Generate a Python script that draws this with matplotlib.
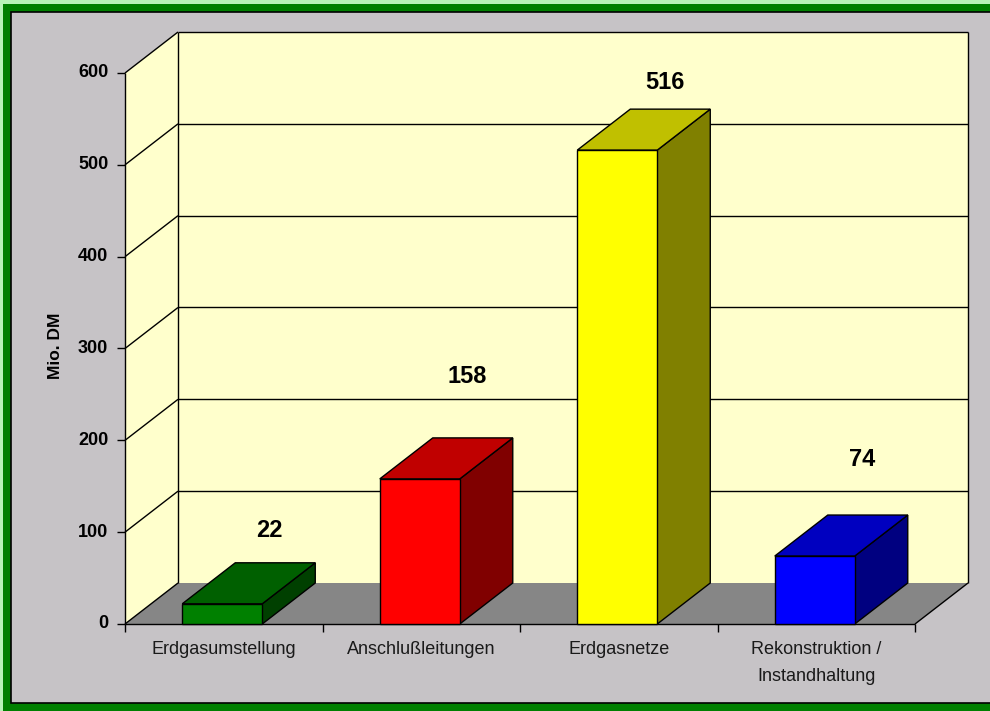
import numpy as np
import matplotlib
matplotlib.use("Agg")
import matplotlib.pyplot as plt
from matplotlib.patches import Polygon, Rectangle

plt.rcParams['font.family'] = ['Liberation Sans', 'DejaVu Sans']

categories = ['Erdgasumstellung', 'Anschlußleitungen', 'Erdgasnetze', 'Rekonstruktion /\nInstandhaltung']
values = [22, 158, 516, 74]
yticks = [0, 100, 200, 300, 400, 500, 600]

front_colors = ['#008000', '#ff0000', '#ffff00', '#0000ff']
top_colors = ['#006000', '#c00000', '#c0c000', '#0000c0']
side_colors = ['#004000', '#800000', '#808000', '#000080']
# how far above the bar each number sits (value units)
label_lift = [80, 112, 74, 105]

W, H = 990, 711
fig = plt.figure(figsize=(W / 100, H / 100), dpi=100)
fig.patch.set_facecolor('#b8f4b8')

# window frame (behind the axes)
fig.add_artist(Rectangle((3 / W, 0), 1, 1 - 4 / H, transform=fig.transFigure,
                         facecolor='#008000', edgecolor='none', zorder=-10))
fig.add_artist(Rectangle((11 / W, 8 / H), 1, (703 - 12) / H, transform=fig.transFigure,
                         facecolor='#c6c3c6', edgecolor='black', lw=1.2, zorder=-9))

ax = fig.add_axes([125 / W, (H - 624) / H, 790 / W, 551 / H])
ax.set_xlim(0, 4)
ax.set_ylim(0, 600)
ax.axis('off')

n = len(categories)
DX = 53 / 790 * n
DY = 41 / 551 * 600
top = yticks[-1]

# walls and floor
ax.add_patch(Polygon([(DX, DY), (n + DX, DY), (n + DX, top + DY), (DX, top + DY)],
                     closed=True, facecolor='#ffffcc', edgecolor='none', clip_on=False))
ax.add_patch(Polygon([(0, 0), (DX, DY), (DX, top + DY), (0, top)],
                     closed=True, facecolor='#ffffcc', edgecolor='none', clip_on=False))
ax.add_patch(Polygon([(0, 0), (n, 0), (n + DX, DY), (DX, DY)],
                     closed=True, facecolor='#868686', edgecolor='none', clip_on=False))

lk = dict(color='black', lw=1.0, clip_on=False, solid_capstyle='butt')
for t in yticks[1:]:
    ax.plot([DX, n + DX], [t + DY, t + DY], **lk)
    ax.plot([0, DX], [t, t + DY], **lk)
ax.plot([DX, DX], [DY, top + DY], **lk)
ax.plot([n + DX, n + DX], [DY, top + DY], **lk)
ax.plot([0, 0], [0, top], **lk)
ax.plot([0, DX], [0, DY], **lk)
ax.plot([0, n], [0, 0], **lk)
ax.plot([n, n + DX], [0, DY], **lk)

# value axis ticks
for t in yticks:
    ax.plot([-0.04, 0], [t, t], **lk)
    ax.text(-0.085, t, str(t), ha='right', va='center', fontsize=13,
            fontweight='bold', color='black')

# category ticks and labels
for i in range(n + 1):
    ax.plot([i, i], [0, -8.7], **lk)
for i, c in enumerate(categories):
    ax.text(i + 0.5, -18.5, c, ha='center', va='top', fontsize=13,
            linespacing=1.75, color='#1a1a1a')

fig.text(55 / W, (H - 346) / H, 'Mio. DM', rotation=90, ha='center', va='center',
         fontsize=12.5, fontweight='bold')

# 3d bars
w = 0.405
for i, v in enumerate(values):
    x0 = i + 0.29
    side = [(x0 + w, 0), (x0 + w + DX, DY), (x0 + w + DX, v + DY), (x0 + w, v)]
    topf = [(x0, v), (x0 + w, v), (x0 + w + DX, v + DY), (x0 + DX, v + DY)]
    front = [(x0, 0), (x0 + w, 0), (x0 + w, v), (x0, v)]
    for pts, col in [(side, side_colors[i]), (topf, top_colors[i]), (front, front_colors[i])]:
        ax.add_patch(Polygon(pts, closed=True, facecolor=col, edgecolor='black',
                             lw=1.0, clip_on=False, zorder=3))
    ax.text(x0 + w / 2 + 0.24, v + label_lift[i], str(v), ha='center', va='center',
            fontsize=17, fontweight='bold', color='black', zorder=4)

fig.savefig('out.png', dpi=100, facecolor=fig.get_facecolor())
